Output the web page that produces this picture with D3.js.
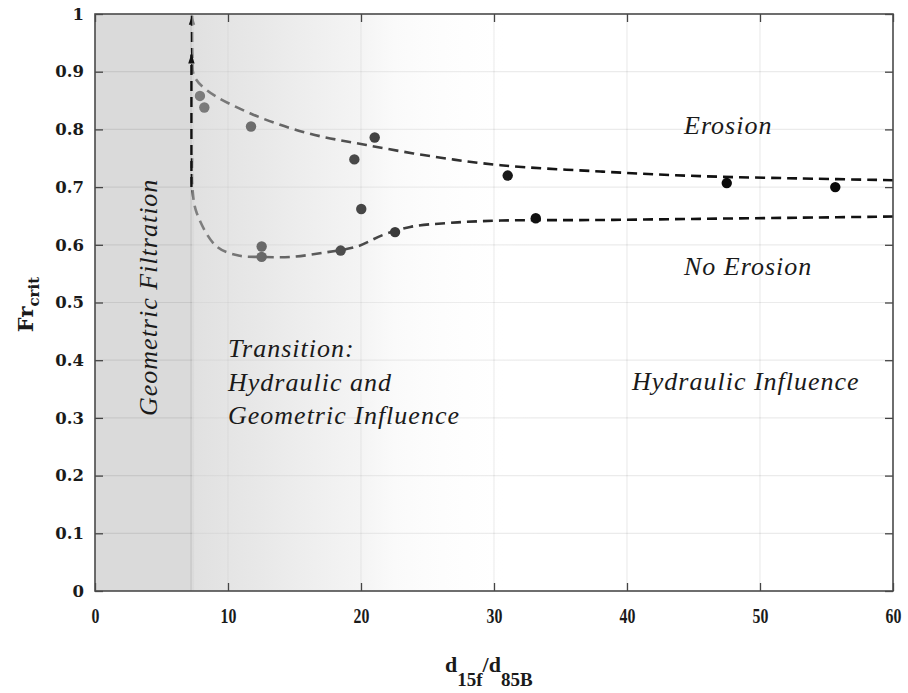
<!DOCTYPE html>
<html>
<head>
<meta charset="utf-8">
<script src="https://cdn.jsdelivr.net/npm/d3@7"></script>
<style>
  html, body { margin: 0; padding: 0; background: #fff; }
  svg { display: block; }
</style>
</head>
<body>
<svg id="chart" width="908" height="693"></svg>
<script>
// Critical Froude number against grain size ratio d15f/d85B
const xTickValues = [0, 10, 20, 30, 40, 50, 60];
const xTickLabels = ["0", "10", "20", "30", "40", "50", "60"];
const yTickValues = [0, 0.1, 0.2, 0.3, 0.4, 0.5, 0.6, 0.7, 0.8, 0.9, 1];
const yTickLabels = ["0", "0.1", "0.2", "0.3", "0.4", "0.5", "0.6", "0.7", "0.8", "0.9", "1"];

// measured points
const pointRatio = [7.89, 8.22, 11.73, 12.53, 12.53, 18.47, 19.50, 20.02, 21.03, 22.56, 31.03, 33.14, 47.50, 55.66];
const pointFr    = [0.858, 0.838, 0.805, 0.597, 0.579, 0.590, 0.748, 0.662, 0.786, 0.622, 0.720, 0.646, 0.707, 0.700];

// upper boundary (erosion), traced from the right end towards the filtration limit
const upperRatio = [60, 53, 45.5, 38, 30.5, 25.4, 20.4, 15.9, 11.65, 8.4, 7.45, 7.32, 7.3];
const upperFr    = [0.712, 0.715, 0.719, 0.727, 0.738, 0.753, 0.773, 0.794, 0.828, 0.868, 0.893, 0.93, 0.997];

// lower boundary (no erosion)
const lowerRatio = [60, 53, 45.5, 38, 30.5, 26.7, 23.7, 21.65, 19.7, 17.1, 14.7, 12.6, 10.9, 9.15, 7.65, 7.32, 7.3];
const lowerFr    = [0.649, 0.647, 0.645, 0.643, 0.642, 0.638, 0.631, 0.617, 0.597, 0.586, 0.579, 0.579, 0.581, 0.597, 0.655, 0.70, 0.75];

// geometric filtration limit and its upward arrow
const filtrationLimit = 7.3;
const limitArrowFr = [0.70, 0.93];

const svg = d3.select("#chart");
const margin = { left: 95, right: 15, top: 14, bottom: 102 };
const W = 908, H = 693;
const iw = W - margin.left - margin.right;
const ih = H - margin.top - margin.bottom;

const x = d3.scaleLinear().domain([0, 60]).range([margin.left, margin.left + iw]);
const y = d3.scaleLinear().domain([0, 1]).range([margin.top + ih, margin.top]);

const defs = svg.append("defs");

// fading grey veil over the transition zone
const veilEnd = 35;
const veil = defs.append("linearGradient").attr("id", "veil")
  .attr("gradientUnits", "userSpaceOnUse")
  .attr("x1", x(filtrationLimit)).attr("x2", x(veilEnd)).attr("y1", 0).attr("y2", 0);
[[7.3, "#cccccc", 0.60], [12.6, "#d0d0d0", 0.48], [20, "#d9d9d9", 0.29],
 [22.5, "#e8e8e8", 0.22], [31, "#ffffff", 0.06], [35, "#ffffff", 0]].forEach(([at, c, a]) => {
  veil.append("stop").attr("offset", (at - filtrationLimit) / (veilEnd - filtrationLimit))
    .attr("stop-color", c).attr("stop-opacity", a);
});

function arrowMarker(id, color) {
  defs.append("marker").attr("id", id)
    .attr("viewBox", "0 -4 10 8").attr("refX", 9).attr("refY", 0)
    .attr("markerUnits", "userSpaceOnUse").attr("markerWidth", 11).attr("markerHeight", 8)
    .attr("orient", "auto")
    .append("path").attr("d", "M0,-3.2L10,0L0,3.2Z").attr("fill", color);
}
arrowMarker("arrowDark", "#111");
arrowMarker("arrowTop", "#111");

const plot = svg.append("g");

// background
plot.append("rect").attr("x", x(0)).attr("y", y(1)).attr("width", iw).attr("height", ih).attr("fill", "#fff");
plot.append("rect").attr("x", x(0)).attr("y", y(1))
  .attr("width", x(filtrationLimit) - x(0)).attr("height", ih).attr("fill", "#dadada");

// grid
plot.append("g").selectAll("line").data(xTickValues.slice(1, -1)).join("line")
  .attr("x1", d => x(d)).attr("x2", d => x(d)).attr("y1", y(0)).attr("y2", y(1))
  .attr("stroke", "#000").attr("stroke-opacity", 0.08).attr("stroke-width", 1.2);
plot.append("g").selectAll("line").data(yTickValues.slice(1, -1)).join("line")
  .attr("x1", x(0)).attr("x2", x(60)).attr("y1", d => y(d)).attr("y2", d => y(d))
  .attr("stroke", "#000").attr("stroke-opacity", 0.08).attr("stroke-width", 1.2);

// filtration limit band
plot.append("line").attr("x1", x(filtrationLimit)).attr("x2", x(filtrationLimit))
  .attr("y1", y(0)).attr("y2", y(1)).attr("stroke", "#000").attr("stroke-opacity", 0.06).attr("stroke-width", 4);

// boundary curves
const line = d3.line().x(d => x(d[0])).y(d => y(d[1])).curve(d3.curveCatmullRom.alpha(0.5));
plot.append("path").datum(upperRatio.map((r, i) => [r, upperFr[i]]))
  .attr("d", line).attr("fill", "none").attr("stroke", "#111")
  .attr("stroke-width", 2.6).attr("stroke-dasharray", "10,6")
  .attr("marker-end", "url(#arrowTop)");
plot.append("path").datum(lowerRatio.map((r, i) => [r, lowerFr[i]]))
  .attr("d", line).attr("fill", "none").attr("stroke", "#111")
  .attr("stroke-width", 2.6).attr("stroke-dasharray", "10,6");

// points
plot.append("g").selectAll("circle").data(pointRatio.map((r, i) => [r, pointFr[i]])).join("circle")
  .attr("cx", d => x(d[0])).attr("cy", d => y(d[1])).attr("r", 5.2).attr("fill", "#0a0a0a");

// veil over the transition zone
plot.append("rect").attr("x", x(filtrationLimit)).attr("y", y(1))
  .attr("width", x(veilEnd) - x(filtrationLimit)).attr("height", ih).attr("fill", "url(#veil)");

// arrow on the limit
plot.append("path").datum(limitArrowFr.map(v => [filtrationLimit - 0.05, v]))
  .attr("d", d3.line().x(d => x(d[0])).y(d => y(d[1])))
  .attr("fill", "none").attr("stroke", "#111").attr("stroke-width", 2.4)
  .attr("stroke-dasharray", "10,6").attr("marker-end", "url(#arrowDark)");

// axes with inward ticks
const tickColor = "#444";
const axB = svg.append("g").attr("transform", `translate(0,${y(0)})`)
  .call(d3.axisBottom(x).tickValues(xTickValues).tickFormat((d, i) => xTickLabels[i]).tickSize(-8).tickPadding(16.5));
const axT = svg.append("g").attr("transform", `translate(0,${y(1)})`)
  .call(d3.axisTop(x).tickValues(xTickValues).tickFormat("").tickSize(-8));
const axL = svg.append("g").attr("transform", `translate(${x(0)},0)`)
  .call(d3.axisLeft(y).tickValues(yTickValues).tickFormat((d, i) => yTickLabels[i]).tickSize(-8).tickPadding(11));
const axR = svg.append("g").attr("transform", `translate(${x(60)},0)`)
  .call(d3.axisRight(y).tickValues(yTickValues).tickFormat("").tickSize(-8));
[axB, axT, axL, axR].forEach(g => {
  g.select(".domain").remove();
  g.selectAll(".tick line").attr("stroke", tickColor).attr("stroke-width", 1.3);
});
axB.selectAll(".tick text")
  .attr("font-family", "'Liberation Serif', serif").attr("font-weight", "bold")
  .attr("font-size", 22).attr("fill", "#1a1a1a").attr("transform", "scale(0.72,1)");
axL.selectAll(".tick text")
  .attr("font-family", "'DejaVu Serif', serif").attr("font-weight", "bold")
  .attr("font-size", 16.5).attr("fill", "#1a1a1a");

// frame
svg.append("rect").attr("x", x(0)).attr("y", y(1)).attr("width", iw).attr("height", ih)
  .attr("fill", "none").attr("stroke", "#4a4a4a").attr("stroke-width", 1.6);

// axis titles
const yTitle = svg.append("text").attr("transform", `translate(33,${y(0.5) + 2}) rotate(-90)`)
  .attr("text-anchor", "middle").attr("font-family", "'DejaVu Serif', serif")
  .attr("font-weight", "bold").attr("fill", "#1a1a1a");
yTitle.append("tspan").attr("font-size", 21).text("Fr");
yTitle.append("tspan").attr("font-size", 15).attr("dy", 6).text("crit");

const xTitle = svg.append("text").attr("x", 445).attr("y", 672)
  .attr("font-family", "'Liberation Serif', serif").attr("font-weight", "bold").attr("fill", "#1a1a1a");
xTitle.append("tspan").attr("font-size", 22).text("d");
xTitle.append("tspan").attr("font-size", 19).attr("dy", 14).text("15f");
xTitle.append("tspan").attr("font-size", 22).attr("dy", -14).text("/d");
xTitle.append("tspan").attr("font-size", 19).attr("dy", 14).text("85B");

// region annotations
const note = (sel) => sel.attr("font-family", "'Liberation Serif', 'Times New Roman', serif")
  .attr("font-style", "italic").attr("font-size", 26).attr("letter-spacing", 1).attr("fill", "#1a1a1a");

note(svg.append("text").attr("x", 684).attr("y", 134)).text("Erosion");
note(svg.append("text").attr("x", 684).attr("y", 275)).text("No Erosion");
note(svg.append("text").attr("x", 632).attr("y", 390)).text("Hydraulic Influence");
const trans = note(svg.append("text").attr("x", 228).attr("y", 357));
["Transition:", "Hydraulic and", "Geometric Influence"].forEach((t, i) => {
  trans.append("tspan").attr("x", 228).attr("dy", i === 0 ? 0 : 33.5).text(t);
});
note(svg.append("text").attr("transform", "translate(157,416) rotate(-90)")).text("Geometric Filtration");
</script>
</body>
</html>
